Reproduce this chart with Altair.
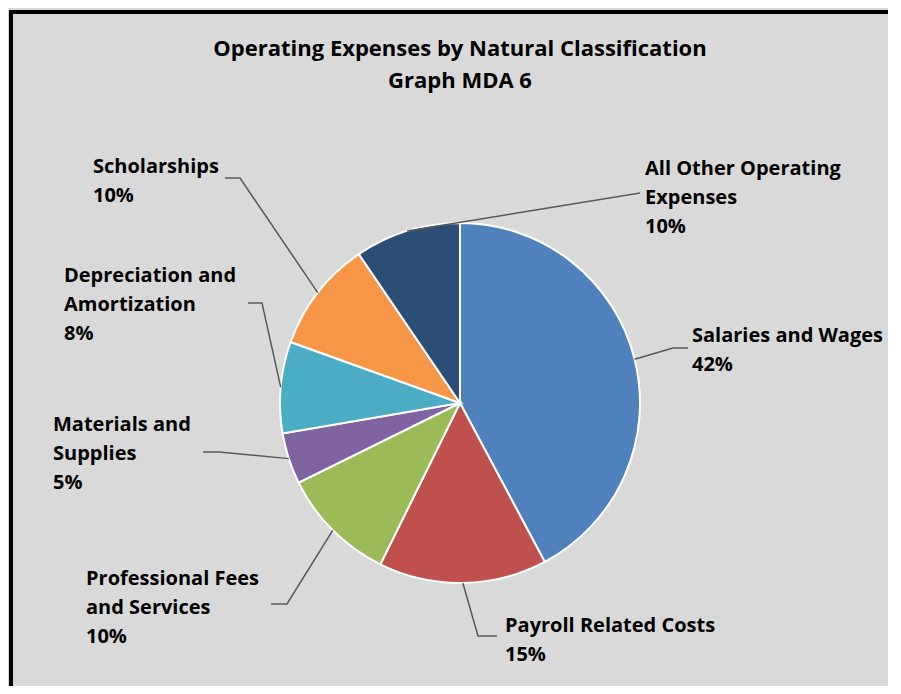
import math
import altair as alt
import pandas as pd

# ---- data ----
categories = [
    "Salaries and Wages",
    "Payroll Related Costs",
    "Professional Fees and Services",
    "Materials and Supplies",
    "Depreciation and Amortization",
    "Scholarships",
    "All Other Operating Expenses",
]
shares = [42.2, 15.1, 10.4, 4.6, 8.2, 10.0, 9.5]
pct_labels = ["42%", "15%", "10%", "5%", "8%", "10%", "10%"]
label_names = [
    "Salaries and Wages",
    "Payroll Related Costs",
    "Professional Fees\nand Services",
    "Materials and\nSupplies",
    "Depreciation and\nAmortization",
    "Scholarships",
    "All Other Operating\nExpenses",
]
colors = ["#4F81BD", "#C0504D", "#9BBB59", "#8064A2", "#4BACC6", "#F79646", "#2C4D75"]
title_lines = ["Operating Expenses by Natural Classification", "Graph MDA 6"]

# ---- layout (pixels in chart space) ----
W, H = 880, 678
CX, CY, R = 452, 395, 180
label_pos = {  # left x, first baseline y
    "Salaries and Wages": (684, 334),
    "Payroll Related Costs": (497, 624),
    "Professional Fees and Services": (78, 577),
    "Materials and Supplies": (45, 423),
    "Depreciation and Amortization": (56, 274),
    "Scholarships": (85, 165),
    "All Other Operating Expenses": (637, 167),
}
leader_pts = {  # elbow, end
    "Salaries and Wages": ((665, 340), (680, 340)),
    "Payroll Related Costs": ((470, 628), (489, 628)),
    "Professional Fees and Services": ((279, 596), (263, 596)),
    "Materials and Supplies": ((211, 444), (195, 444)),
    "Depreciation and Amortization": ((254, 295), (240, 295)),
    "Scholarships": ((232, 170), (217, 170)),
    "All Other Operating Expenses": ((632, 185), (632, 185)),
}

FONT = "Open Sans"

pie_df = pd.DataFrame({"cat": categories, "share": shares, "idx": range(len(categories))})

total = sum(shares)
lines_rows = []
cum = 0.0
for c, s in zip(categories, shares):
    mid = (cum + s / 2) / total * 2 * math.pi
    cum += s
    sx = CX + R * math.sin(mid)
    sy = CY - R * math.cos(mid)
    (ex1, ey1), (ex2, ey2) = leader_pts[c]
    lines_rows += [
        {"cat": c, "step": 0, "x": sx, "y": sy},
        {"cat": c, "step": 1, "x": ex1, "y": ey1},
        {"cat": c, "step": 2, "x": ex2, "y": ey2},
    ]
lines_df = pd.DataFrame(lines_rows)

label_df = pd.DataFrame({
    "cat": categories,
    "text": [n + "\n" + p for n, p in zip(label_names, pct_labels)],
    "x": [label_pos[c][0] for c in categories],
    "y": [label_pos[c][1] for c in categories],
})

title_df = pd.DataFrame({"text": title_lines, "x": [452, 452], "y": [48, 80]})

one = pd.DataFrame({"a": [0]})
border_left = alt.Chart(one).mark_rule(color="black", strokeWidth=4).encode(
    x=alt.value(3), y=alt.value(2), y2=alt.value(H)
)
border_top = alt.Chart(one).mark_rule(color="black", strokeWidth=4).encode(
    x=alt.value(1), x2=alt.value(W), y=alt.value(4)
)

pie = alt.Chart(pie_df).mark_arc(
    outerRadius=R, stroke="white", strokeWidth=2
).encode(
    theta=alt.Theta("share:Q", stack=True),
    order=alt.Order("idx:Q"),
    color=alt.Color("cat:N", scale=alt.Scale(domain=categories, range=colors), legend=None),
    x=alt.value(CX),
    y=alt.value(CY),
)

leaders = alt.Chart(lines_df).mark_line(color="#595959", strokeWidth=1.5).encode(
    x=alt.X("x:Q", scale=None),
    y=alt.Y("y:Q", scale=None),
    detail="cat:N",
    order="step:Q",
)

labels = alt.Chart(label_df).mark_text(
    align="left", baseline="alphabetic", font=FONT, fontWeight="bold",
    fontSize=20, lineBreak="\n", lineHeight=29, color="black"
).encode(
    x=alt.X("x:Q", scale=None),
    y=alt.Y("y:Q", scale=None),
    text="text:N",
)

titles = alt.Chart(title_df).mark_text(
    align="center", baseline="alphabetic", font=FONT, fontWeight="bold",
    fontSize=22, color="black"
).encode(
    x=alt.X("x:Q", scale=None),
    y=alt.Y("y:Q", scale=None),
    text="text:N",
)

chart = alt.layer(border_left, border_top, pie, leaders, labels, titles).properties(
    width=W, height=H, padding=0, autosize=alt.AutoSizeParams(type="none"),
    background="#d9d9d9",
).configure_view(stroke=None)

chart.save("out.html", embed_options={"renderer": "svg", "actions": False})
